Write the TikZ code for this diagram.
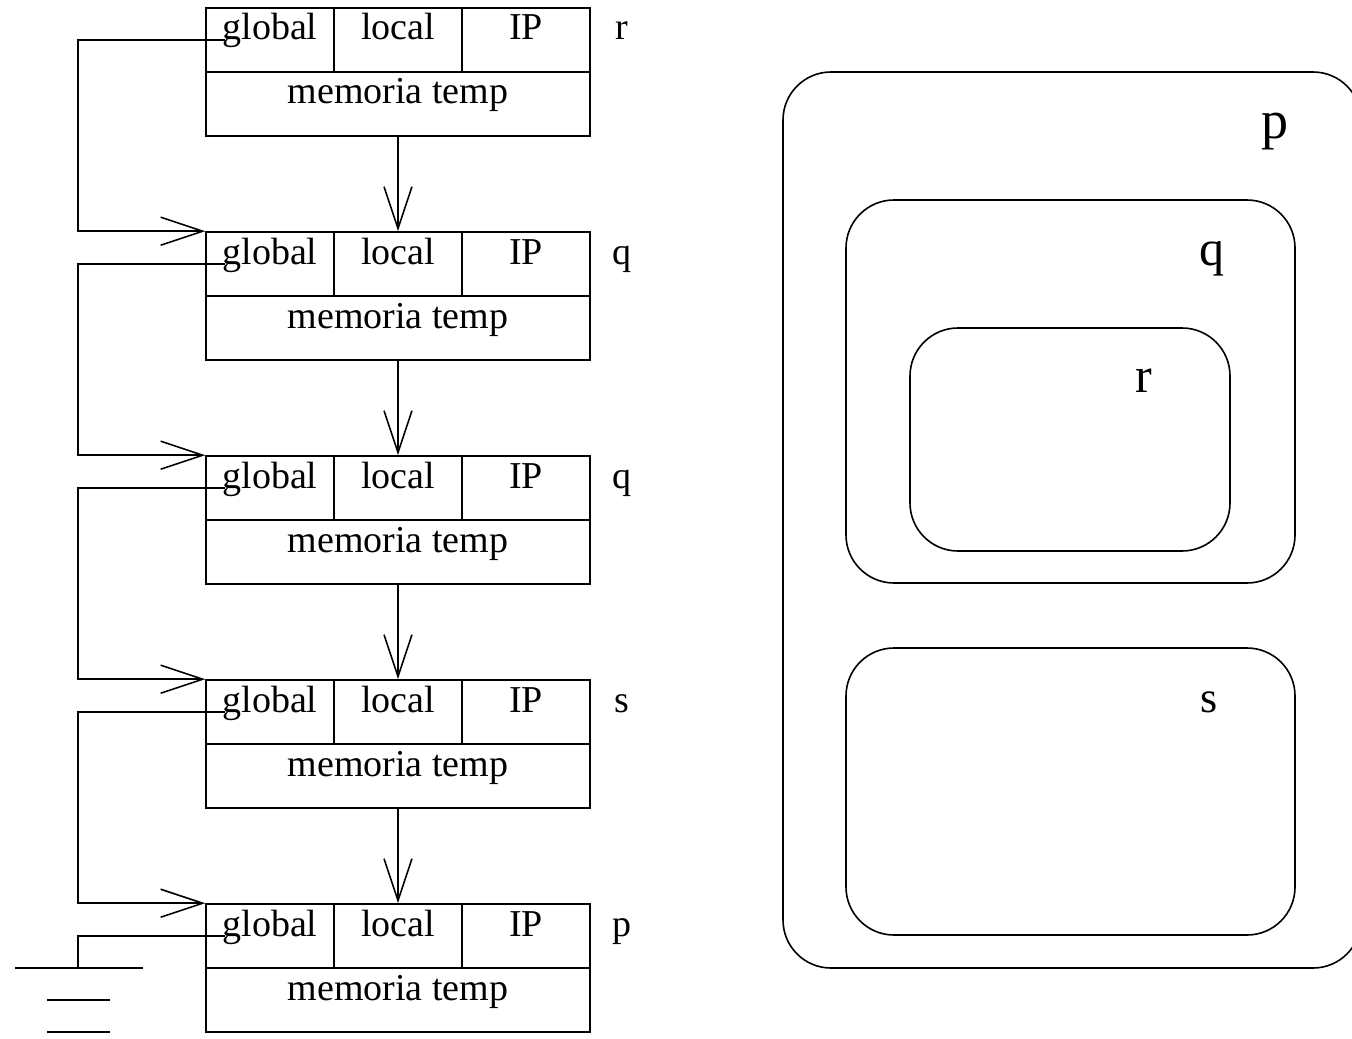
\documentclass[tikz,border=0pt]{standalone}
\usepackage{fontspec}
\setmainfont{Liberation Serif}
\usetikzlibrary{arrows.meta}
\begin{document}
\begin{tikzpicture}[x=0.5pt,y=-0.5pt,line width=0.8pt,
  txt/.style={font=\fontsize{19}{23}\selectfont},
  cell/.style={draw,rectangle,inner sep=0pt,minimum width=64pt,minimum height=32pt,
               text height=6pt,text depth=6pt,txt},
  wide/.style={cell,minimum width=192pt},
  tag/.style={anchor=base,inner sep=0pt,txt},
  arr/.style={-{Straight Barb[length=21pt,width=14pt]}},
  region/.style={draw,rounded corners=24pt},
  big/.style={anchor=base,inner sep=0pt,font=\fontsize{#1}{#1}\selectfont}]
\useasboundingbox (0,0) rectangle (1352,1038);

% activation records: global | local | IP over memoria temp
\foreach \i/\lab in {0/r,1/q,2/q,3/s,4/p}{
  \pgfmathsetmacro\y{8+224*\i}
  \node[cell] (g\i) at (270,{\y+32}) {global};
  \node[cell] (l\i) at (398,{\y+32}) {local};
  \node[cell] (ip\i) at (526,{\y+32}) {IP};
  \node[wide] (m\i) at (398,{\y+96}) {memoria temp};
  \node[tag] (t\i) at (622,{\y+32}) {\lab};
  \coordinate (s\i) at (225,{\y+32});
}

% dynamic chain and static links
\foreach \i/\j in {0/1,1/2,2/3,3/4}{
  \draw[arr] (m\i.south) -- (l\j.north);
  \draw[arr] (s\i) -- ++(-147,0) |- (g\j.north west);
}

% end of the static chain: ground symbol
\coordinate (gnd) at (78,968);
\draw (s4) -| (gnd);
\draw (15,968) -- (143,968);
\draw (47,1000) -- (110,1000);
\draw (47,1032) -- (110,1032);

% nested scopes
\begin{scope}
\clip (0,0) rectangle (1352,1038);
\draw[region] (783,72) rectangle (1361,968);
\end{scope}
\draw[region] (846,200) rectangle (1295,583);
\draw[region] (910,328) rectangle (1230,551);
\draw[region] (846,648) rectangle (1295,935);
\node[big=27] (P) at (1275,138) {p};
\node[big=25] (Q) at (1212,265) {q};
\node[big=25] (R) at (1144,392) {r};
\node[big=22] (S) at (1209,712) {s};
\end{tikzpicture}
\end{document}
